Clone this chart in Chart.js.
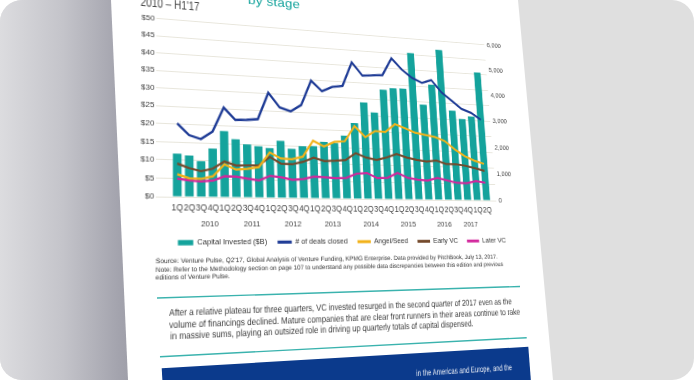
<!DOCTYPE html>
<html>
<head>
<meta charset="utf-8">
<script src="https://cdn.jsdelivr.net/npm/chart.js@4.4.1/dist/chart.umd.min.js"></script>
<style>
  html, body { margin: 0; padding: 0; background: #ffffff; }
  #frame { position: relative; width: 694px; height: 380px; overflow: hidden;
           border-radius: 22px; background: #dfdfdf; box-sizing: border-box; }
  #shade { position: absolute; left: 0; top: 0; width: 140px; height: 380px;
           background: linear-gradient(to right, #dcdcdf 0%, #c4c4ca 45%, #a3a3ad 85%, #9a9aa4 100%); }
  #page { position: absolute; left: 0; top: 0; width: 694px; height: 380px; background: #ffffff;
          clip-path: polygon(111px 0px, 518px 0px, 553px 380px, 128px 380px); }
  #deco { position: absolute; left: 0; top: 0; }
  #flat { position: absolute; left: 0; top: 0; width: 694px; height: 380px; transform-origin: 0 0; }
  #flat canvas { position: absolute; left: 108px; top: 12px; }
  .ln { position: absolute; white-space: nowrap; transform-origin: 0 50%;
        font-family: "Liberation Sans", Arial, sans-serif; }
</style>
</head>
<body>
<div id="frame">
  <div id="shade"></div>
  <div id="page"></div>
  <svg id="deco" width="694" height="380">
    <line x1="157" y1="298" x2="520" y2="286.5" stroke="#3bb3ae" stroke-width="1.4"/>
    <line x1="160" y1="356.7" x2="526.7" y2="337.7" stroke="#3bb3ae" stroke-width="1.4"/>
    <polygon points="161.7,368.3 528.3,346.7 531,382 162.5,382" fill="#0b3a8c"/>
  </svg>
  <div id="flat">
    <canvas id="chart" width="420" height="240"></canvas>
  </div>
</div>
<script>
// quarters 1Q 2010 .. 2Q 2017
var quarterLabels = ['1Q','2Q','3Q','4Q','1Q','2Q','3Q','4Q','1Q','2Q','3Q','4Q','1Q','2Q','3Q','4Q',
                     '1Q','2Q','3Q','4Q','1Q','2Q','3Q','4Q','1Q','2Q','3Q','4Q','1Q','2Q'];
var yearOfQuarter = ['2010','2010','2010','2010','2011','2011','2011','2011','2012','2012','2012','2012',
                     '2013','2013','2013','2013','2014','2014','2014','2014','2015','2015','2015','2015',
                     '2016','2016','2016','2016','2017','2017'];
var years = ['2010','2011','2012','2013','2014','2015','2016','2017'];

// capital invested, $B (left axis)
var capitalInvested = [11.8, 11.4, 9.9, 13.5, 18.6, 16.4, 15.0, 14.6, 14.2, 16.4, 14.2, 15.0, 15.2, 16.5, 16.3, 18.6,
                       22.5, 28.9, 26.0, 33.2, 33.8, 33.9, 45.4, 29.2, 35.7, 47.1, 27.8, 25.3, 26.2, 40.6];
// deal counts (right axis)
var dealsClosed = [2430, 2050, 1930, 2200, 3040, 2630, 2650, 2690, 3640, 3140, 3020, 3260, 4160, 3800, 3980, 4040,
                   4930, 4460, 4500, 4530, 5190, 4790, 4500, 4330, 4460, 4010, 3720, 3420, 3290, 3040];
var angelSeed = [738, 610, 600, 695, 1100, 935, 969, 1037, 1553, 1353, 1341, 1438, 2012, 1822, 1994, 2032,
                 2595, 2208, 2444, 2424, 2725, 2588, 2438, 2373, 2311, 2172, 1873, 1632, 1475, 1368];
var earlyVC = [1090, 950, 855, 950, 1201, 1074, 1085, 1096, 1400, 1176, 1164, 1259, 1413, 1305, 1329, 1365,
               1620, 1473, 1398, 1496, 1632, 1517, 1438, 1391, 1439, 1322, 1324, 1273, 1191, 1096];
var laterVC = [592, 544, 520, 550, 705, 698, 638, 588, 750, 704, 630, 663, 755, 739, 713, 733,
               888, 921, 746, 767, 949, 781, 725, 699, 795, 713, 634, 631, 715, 657];

var TEAL = '#14a39c';
var FONT = "'Liberation Sans', Arial, sans-serif";

function pts(arr) {
  return arr.map(function(v, i) { return {x: i, y: v}; });
}

var yearCenters = years.map(function(y) {
  var idx = [];
  yearOfQuarter.forEach(function(q, i) { if (q === y) idx.push(i); });
  return (idx[0] + idx[idx.length - 1]) / 2;
});

Chart.defaults.font.family = FONT;
Chart.defaults.font.size = 8;
Chart.defaults.color = '#444';

// nudge the legend row to the right, as on the printed page
var legendShift = {
  id: 'legendShift',
  afterLayout: function(c) { c.legend.left += 11; c.legend.right += 11; }
};

var ctx = document.getElementById('chart').getContext('2d');
var chart = new Chart(ctx, {
  type: 'bar',
  data: {
    datasets: [
      {type: 'bar', label: 'Capital Invested ($B)', data: pts(capitalInvested), backgroundColor: TEAL,
       borderWidth: 0, yAxisID: 'y', xAxisID: 'x', order: 2, barPercentage: 0.8, categoryPercentage: 0.9},
      {type: 'line', label: '# of deals closed', data: pts(dealsClosed), borderColor: '#1d3a95',
       borderWidth: 2.4, pointRadius: 0, yAxisID: 'y1', xAxisID: 'x', order: 1},
      {type: 'line', label: 'Angel/Seed', data: pts(angelSeed), borderColor: '#f2b21a',
       borderWidth: 2.2, pointRadius: 0, yAxisID: 'y1', xAxisID: 'x', order: 1},
      {type: 'line', label: 'Early VC', data: pts(earlyVC), borderColor: '#744a2c',
       borderWidth: 2.2, pointRadius: 0, yAxisID: 'y1', xAxisID: 'x', order: 1},
      {type: 'line', label: 'Later VC', data: pts(laterVC), borderColor: '#d2279c',
       borderWidth: 2.2, pointRadius: 0, yAxisID: 'y1', xAxisID: 'x', order: 1}
    ]
  },
  options: {
    responsive: false,
    animation: false,
    layout: {padding: {top: 2, left: 0, right: 0}},
    plugins: {
      tooltip: {enabled: false},
      legend: {
        position: 'bottom',
        labels: {
          usePointStyle: true, pointStyleWidth: 15, boxHeight: 5, padding: 11, color: '#333',
          font: {size: 7.6},
          sort: function(a, b) { return a.datasetIndex - b.datasetIndex; },
          generateLabels: function(c) {
            return Chart.defaults.plugins.legend.labels.generateLabels(c).map(function(l) {
              var isBar = c.data.datasets[l.datasetIndex].type === 'bar';
              l.pointStyle = isBar ? 'rect' : 'line';
              if (!isBar) l.lineWidth = 3;
              return l;
            });
          }
        }
      }
    },
    scales: {
      x: {
        type: 'linear', position: 'bottom', min: -1.2, max: 29.5, weight: 0,
        grid: {display: false, drawTicks: false}, border: {display: false},
        afterBuildTicks: function(a) { a.ticks = quarterLabels.map(function(q, i) { return {value: i}; }); },
        afterFit: function(a) { a.height = 20; },
        ticks: {autoSkip: false, maxRotation: 0, padding: 6, font: {size: 8.5},
                callback: function(v) { return quarterLabels[v]; }}
      },
      x2: {
        type: 'linear', position: 'bottom', min: -1.2, max: 29.5, weight: 1,
        grid: {display: false, drawTicks: false}, border: {display: false},
        afterBuildTicks: function(a) { a.ticks = yearCenters.map(function(c) { return {value: c}; }); },
        afterFit: function(a) { a.height = 8.4; },
        ticks: {autoSkip: false, maxRotation: 0, padding: 1,
                callback: function(v, i) { return years[i]; }}
      },
      y: {
        position: 'left', min: 0, max: 50,
        grid: {color: '#e8e6dc', lineWidth: 1, drawTicks: false}, border: {display: false},
        ticks: {stepSize: 5, padding: 2, callback: function(v) { return '$' + v; }}
      },
      y1: {
        position: 'right', min: 0, max: 6000,
        grid: {display: false, drawOnChartArea: false, drawTicks: false}, border: {display: false},
        ticks: {stepSize: 1000, padding: 3, font: {size: 7.5},
                callback: function(v) { return v.toLocaleString('en-US'); }}
      }
    }
  },
  plugins: [legendShift]
});

// --- perspective of the photographed page ---
function solveH(src, dst) {
  var A = [], b = [], i, r, c;
  for (var k = 0; k < 4; k++) {
    var x = src[k][0], y = src[k][1], u = dst[k][0], v = dst[k][1];
    A.push([x, y, 1, 0, 0, 0, -u * x, -u * y]); b.push(u);
    A.push([0, 0, 0, x, y, 1, -v * x, -v * y]); b.push(v);
  }
  for (i = 0; i < 8; i++) {
    var p = i;
    for (r = i + 1; r < 8; r++) if (Math.abs(A[r][i]) > Math.abs(A[p][i])) p = r;
    var t = A[i]; A[i] = A[p]; A[p] = t; t = b[i]; b[i] = b[p]; b[p] = t;
    for (r = i + 1; r < 8; r++) {
      var f = A[r][i] / A[i][i];
      for (c = i; c < 8; c++) A[r][c] -= f * A[i][c];
      b[r] -= f * b[i];
    }
  }
  var h = [];
  for (i = 7; i >= 0; i--) {
    var s = b[i];
    for (c = i + 1; c < 8; c++) s -= A[i][c] * h[c];
    h[i] = s / A[i][i];
  }
  return h;
}
function applyH(h, x, y) {
  var w = h[6] * x + h[7] * y + 1;
  return [(h[0] * x + h[1] * y + h[2]) / w, (h[3] * x + h[4] * y + h[5]) / w];
}

var cv = document.getElementById('chart');
var ox = cv.offsetLeft, oy = cv.offsetTop;
var sx = chart.scales.x, sy = chart.scales.y;
var lastQ = quarterLabels.length - 1;
var src = [
  [ox + sx.getPixelForValue(0), oy + sy.getPixelForValue(0)],
  [ox + sx.getPixelForValue(lastQ), oy + sy.getPixelForValue(0)],
  [ox + sx.getPixelForValue(lastQ), oy + sy.getPixelForValue(50)],
  [ox + sx.getPixelForValue(0), oy + sy.getPixelForValue(50)]
];
var dst = [[177.3, 196.8], [486.7, 200.5], [475.1, 44.0], [177.0, 20.0]];
var H = solveH(src, dst);
var Hi = solveH(dst, src);
document.getElementById('flat').style.transform =
  'matrix3d(' + [H[0], H[3], 0, H[6], H[1], H[4], 0, H[7], 0, 0, 1, 0, H[2], H[5], 0, 1].join(',') + ')';

// text lines of the page, placed by screen start point and screen end x
function place(text, sxp, syp, ex, size, color) {
  var fp = applyH(Hi, sxp, syp);
  var fx = fp[0], fy = fp[1];
  var fex = (ex * (H[7] * fy + 1) - H[1] * fy - H[2]) / (H[0] - ex * H[6]);
  var el = document.createElement('div');
  el.className = 'ln';
  el.textContent = text;
  el.style.fontSize = size + 'px';
  el.style.lineHeight = size + 'px';
  el.style.color = color;
  el.style.left = fx + 'px';
  el.style.top = (fy - size / 2) + 'px';
  document.getElementById('flat').appendChild(el);
  var w = el.offsetWidth;
  el.style.transform = 'scaleX(' + ((fex - fx) / w) + ')';
}

place("2010 \u2013 H1'17", 141, 1, 200, 13, '#444');
place('by stage', 248, 0, 300, 13, '#14a39c');
place("Source: Venture Pulse, Q2'17, Global Analysis of Venture Funding, KPMG Enterprise. Data provided by PitchBook, July 13, 2017.",
      156, 261.5, 498, 6.3, '#333');
place('Note: Refer to the Methodology section on page 107 to understand any possible data discrepancies between this edition and previous',
      156, 269.5, 503, 6.3, '#333');
place('editions of Venture Pulse.', 156, 277.5, 230, 6.3, '#333');
place('After a relative plateau for three quarters, VC invested resurged in the second quarter of 2017 even as the',
      169.3, 313.3, 511.7, 8.8, '#3a3a3a');
place('volume of financings declined. Mature companies that are clear front runners in their areas continue to rake',
      169.3, 325, 520, 8.8, '#3a3a3a');
place('in massive sums, playing an outsized role in driving up quarterly totals of capital dispensed.',
      170, 336.7, 473.3, 8.8, '#3a3a3a');
place('in the Americas and Europe, and the', 416.7, 373.3, 512.7, 8.5, '#ffffff');
</script>
</body>
</html>
